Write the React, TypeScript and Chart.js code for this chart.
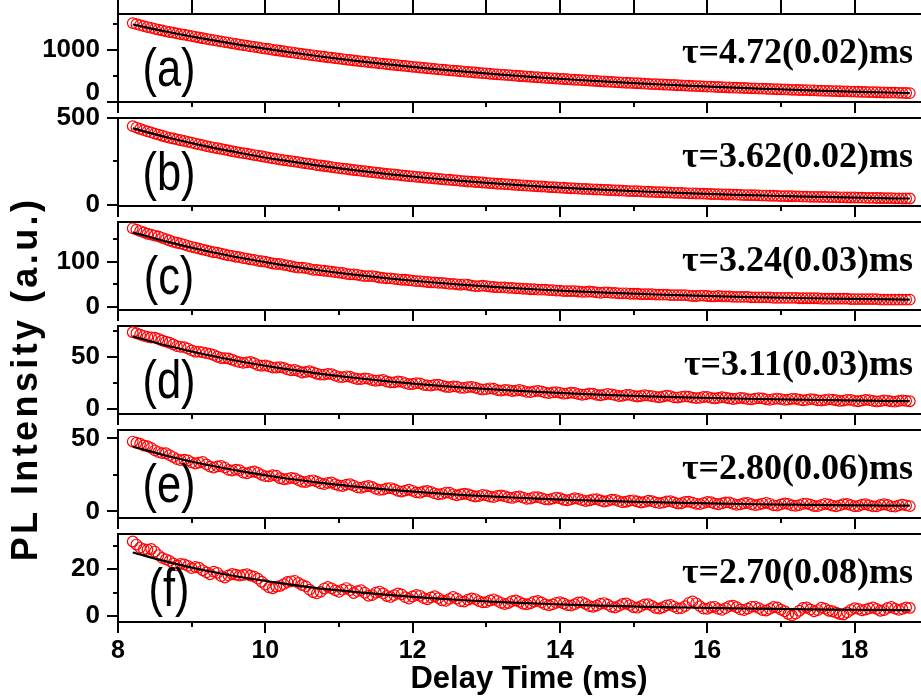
import { useEffect, useRef } from "react";
import { Chart, registerables } from "chart.js";

Chart.register(...registerables);

// Each decay trace is sampled every 0.05 ms starting at 8.20 ms.
const SAMPLE_START_MS = 8.2;
const SAMPLE_STEP_MS = 0.05;

// Times at which the single-exponential fits are tabulated.
const fitTimes = [
  8.2, 8.7, 9.2, 9.7, 10.2, 10.7, 11.2, 11.7, 12.2, 12.7, 13.2, 13.7, 14.2, 14.7, 15.2, 15.7, 16.2, 16.7,
  17.2, 17.7, 18.2, 18.7, 18.75,
];

const intensityA = [
  1262, 1252, 1242, 1233, 1224, 1216, 1207, 1199, 1191, 1183,
  1176, 1170, 1163, 1156, 1150, 1143, 1136, 1130, 1123, 1116,
  1109, 1103, 1098, 1091, 1086, 1079, 1074, 1067, 1061, 1055,
  1049, 1044, 1037, 1033, 1028, 1021, 1016, 1012, 1004, 1000,
  995, 990, 985, 980, 975, 970, 965, 960, 955, 951,
  946, 941, 937, 932, 928, 923, 919, 915, 910, 906,
  901, 897, 893, 890, 886, 881, 878, 874, 870, 866,
  862, 858, 855, 851, 848, 844, 840, 837, 833, 830,
  826, 823, 819, 816, 813, 810, 806, 803, 800, 797,
  794, 791, 788, 785, 782, 779, 776, 773, 770, 767,
  765, 762, 759, 757, 754, 751, 749, 746, 744, 741,
  739, 736, 734, 731, 729, 727, 724, 722, 720, 717,
  715, 713, 711, 709, 707, 705, 703, 700, 698, 696,
  694, 692, 690, 688, 686, 684, 683, 681, 679, 677,
  675, 673, 672, 670, 669, 667, 665, 664, 662, 661,
  659, 657, 656, 654, 653, 651, 649, 648, 646, 645,
  643, 642, 640, 639, 638, 636, 635, 634, 632, 631,
  630, 629, 627, 626, 625, 623, 622, 621, 619, 618,
  617, 616, 615, 614, 613, 612, 610, 609, 608, 607,
  606, 605, 604, 603, 602, 601, 600, 599, 598, 597,
  596, 595, 594, 593, 592, 591, 591, 590, 589, 588,
  587, 586,
];

const intensityB = [
  453, 445, 437, 430, 423, 417, 410, 404, 398, 392,
  386, 382, 377, 372, 368, 363, 358, 353, 348, 344,
  338, 334, 330, 326, 322, 318, 314, 309, 305, 301,
  298, 295, 291, 287, 284, 280, 276, 272, 268, 265,
  261, 258, 255, 252, 249, 246, 242, 239, 236, 233,
  229, 227, 224, 221, 218, 215, 212, 209, 207, 204,
  201, 199, 196, 194, 191, 189, 186, 184, 181, 179,
  177, 175, 173, 170, 168, 166, 164, 162, 160, 158,
  156, 154, 152, 150, 148, 146, 145, 143, 141, 139,
  137, 135, 134, 132, 131, 129, 127, 126, 124, 122,
  121, 120, 118, 117, 115, 114, 113, 111, 110, 108,
  107, 106, 105, 103, 102, 101, 100, 99, 97, 96,
  95, 94, 93, 92, 91, 90, 89, 88, 87, 86,
  85, 84, 83, 82, 81, 80, 80, 79, 78, 77,
  76, 75, 74, 74, 73, 72, 71, 70, 70, 69,
  68, 67, 67, 66, 65, 65, 64, 63, 62, 62,
  61, 60, 60, 59, 59, 58, 57, 57, 56, 56,
  55, 54, 54, 53, 53, 52, 51, 51, 50, 50,
  49, 49, 48, 48, 47, 47, 47, 46, 46, 45,
  45, 45, 44, 44, 43, 43, 43, 42, 42, 41,
  41, 41, 40, 40, 39, 39, 39, 38, 38, 37,
  37, 37,
];

const intensityC = [
  174, 171, 168, 165, 162, 160, 158, 156, 153, 150,
  147, 144, 142, 140, 138, 135, 133, 131, 129, 127,
  125, 123, 121, 120, 118, 116, 114, 113, 111, 110,
  108, 107, 105, 104, 102, 101, 100, 98, 96, 95,
  95, 93, 92, 90, 88, 87, 87, 86, 84, 82,
  82, 81, 80, 79, 78, 77, 76, 75, 73, 72,
  72, 71, 69, 68, 68, 68, 67, 65, 64, 63,
  63, 62, 61, 60, 60, 59, 58, 57, 57, 56,
  55, 54, 54, 53, 53, 52, 51, 51, 50, 49,
  50, 49, 47, 46, 46, 47, 46, 45, 44, 43,
  43, 43, 42, 42, 41, 41, 40, 40, 39, 39,
  38, 38, 38, 37, 37, 36, 36, 35, 35, 35,
  35, 34, 33, 33, 34, 33, 32, 31, 32, 32,
  31, 31, 30, 30, 30, 29, 29, 29, 28, 28,
  28, 28, 27, 27, 27, 27, 26, 26, 26, 26,
  26, 25, 24, 24, 25, 25, 24, 23, 23, 24,
  23, 23, 23, 22, 22, 22, 22, 22, 21, 21,
  21, 21, 21, 21, 20, 20, 20, 20, 20, 20,
  20, 19, 19, 19, 19, 19, 19, 18, 18, 18,
  18, 18, 18, 18, 18, 17, 17, 17, 17, 17,
  17, 17, 17, 16, 16, 16, 16, 16, 16, 16,
  16, 16,
];

const intensityD = [
  74, 73, 71.6, 70.4, 69.5, 68.9, 68.8, 67.5, 66, 64.9,
  63.8, 62.2, 60.5, 59.9, 59.6, 58.2, 56.4, 55.1, 55.3, 54.6,
  53.8, 53.1, 52, 50.3, 49.1, 48.9, 48.6, 47.4, 46, 45.1,
  44.4, 44.9, 45.3, 44, 42.2, 41.6, 41.9, 41, 39.8, 39.9,
  40.2, 39.6, 38.1, 37.2, 37.5, 36.4, 35.1, 35.6, 36.3, 35.2,
  33.9, 33.1, 33, 33.8, 33.5, 32, 30.8, 30.6, 31.4, 31,
  29.6, 28.8, 28.7, 29.4, 29, 27.7, 27.1, 27.5, 27.9, 26.4,
  25.5, 25.6, 26.4, 26.1, 24.8, 23.9, 24, 24.8, 24.6, 23.2,
  22.6, 22.4, 23.1, 23.4, 22.5, 21.3, 21, 21.7, 21.4, 20.3,
  20.2, 20.9, 21.2, 20.4, 19.3, 18.6, 19, 19.8, 19.4, 18.1,
  17.6, 18.3, 18, 17.2, 17.5, 18.2, 17.4, 16.3, 16.1, 16.9,
  17.4, 16.8, 15.6, 15.2, 15.8, 16.1, 15.5, 14.6, 14.9, 15.6,
  15.3, 14.2, 13.6, 14, 14.9, 14.6, 13.5, 13.1, 13.8, 14.5,
  13.9, 13.2, 12.4, 12.6, 13.5, 13.4, 12.5, 11.9, 12.4, 13.1,
  12.8, 12.3, 11.6, 11.2, 11.9, 12.7, 12.2, 11.1, 10.9, 11.6,
  12, 11.7, 10.8, 10.3, 10.6, 11.4, 11.5, 10.6, 10, 10.5,
  11.2, 10.9, 10, 9.5, 9.9, 10.6, 10.2, 9.3, 9.1, 9.8,
  10.3, 10, 9.2, 8.7, 9.3, 9.9, 9.4, 8.6, 8.9, 9.7,
  9.6, 8.8, 8.2, 8.6, 9.4, 9.1, 8.2, 7.9, 8.5, 9.2,
  8.9, 8.3, 7.6, 7.9, 8.7, 8.6, 7.7, 7.3, 7.9, 8.6,
  8.4, 7.7, 7.1, 7.5, 8.2, 8, 7.1, 6.9, 7.6, 8.1,
  7.6, 7.3,
];

const intensityE = [
  47.8, 47, 46.3, 45.1, 44.6, 43.5, 41.8, 40.6, 39.9, 39.8,
  38.5, 37.2, 35.8, 35.1, 35.4, 34.9, 33.6, 32.8, 33.4, 33.9,
  32.2, 30.6, 30, 30.8, 31.1, 30, 28.4, 27.9, 28.6, 28.2,
  26.5, 26, 26.9, 27.3, 26.4, 25, 24.1, 24, 24.8, 24.4,
  22.7, 22, 22.3, 22.9, 22.6, 21.4, 20.3, 20.1, 20.9, 21.3,
  20.4, 19.2, 18.7, 19.5, 19.8, 18.6, 17.6, 17.4, 18.3, 18.6,
  17.6, 16.5, 16.1, 16.9, 17.4, 16.8, 15.4, 14.7, 14.9, 15.8,
  16, 15.2, 14.1, 13.6, 14.2, 14.9, 14.1, 13, 12.8, 13.7,
  14, 13.4, 12.3, 11.7, 12, 12.9, 12.8, 11.7, 11, 11.6,
  12.1, 11.8, 10.9, 10.2, 10.5, 11.3, 11, 10.1, 9.8, 10.6,
  11, 10.4, 9.6, 9.2, 9.9, 10.3, 9.4, 8.6, 8.8, 9.7,
  9.8, 9.1, 8.3, 8.1, 8.8, 9.5, 9, 8, 7.6, 8.3,
  9, 8.6, 7.7, 7.1, 7.5, 8.3, 8.4, 7.5, 6.8, 7.2,
  8.1, 7.9, 7, 6.3, 6.6, 7.4, 7.6, 6.8, 6.1, 6.5,
  7.3, 7, 6.2, 5.7, 6, 6.9, 7, 6.2, 5.4, 5.6,
  6.5, 6.7, 6, 5.2, 5, 5.7, 6.5, 6.3, 5.3, 4.9,
  5.5, 6.2, 6.1, 5.2, 4.5, 4.8, 5.6, 5.8, 4.9, 4.3,
  4.6, 5.4, 5.9, 5.2, 4.2, 4, 4.8, 5.5, 5.1, 4.1,
  3.8, 4.3, 5.2, 5.4, 4.6, 3.7, 3.6, 4.5, 5.2, 4.8,
  3.9, 3.5, 4.1, 5, 5.1, 4.3, 3.5, 3.7, 4.6, 4.9,
  4.2, 3.4, 3.5, 4.4, 4.9, 4.4, 3.5, 3.3, 4.1, 4.6,
  4.1, 3.6,
];

const intensityF = [
  31.8, 30.5, 29.2, 28.5, 28.3, 28.6, 27.5, 26, 24.8, 24.2,
  23.5, 22.4, 21.6, 22.2, 22, 21.4, 20.4, 20.9, 20.6, 19.5,
  18.6, 17.8, 18.9, 18.4, 17, 16.4, 17.3, 17.9, 17.6, 17.2,
  17.5, 17.8, 17.2, 16.8, 15.9, 14.6, 13.4, 12.2, 11.8, 12.5,
  12.8, 13.6, 14.5, 14.8, 15, 14.1, 13.2, 12.6, 11.2, 10.1,
  9.6, 10.3, 11.7, 12.4, 11.8, 10.9, 10.3, 11.2, 11.9, 11,
  9.8, 10.6, 11, 9.9, 8.6, 8.9, 9.9, 10.4, 9.6, 8.5,
  8.1, 8.9, 9.6, 9.2, 8, 7.4, 8.3, 9, 8.6, 7.6,
  7.1, 7.9, 8.4, 7.6, 6.6, 6.4, 7.3, 8.1, 7.4, 6.3,
  6.1, 6.9, 7.5, 7.2, 6.3, 5.8, 5.9, 6.6, 7.1, 6.4,
  5.6, 5.1, 5.5, 6.3, 6.6, 6, 5.2, 4.9, 5.4, 6.1,
  6.4, 5.8, 4.9, 4.5, 4.9, 5.6, 5.9, 5.3, 4.6, 4.4,
  5, 5.8, 5.9, 5.1, 4.2, 3.9, 4.4, 5.2, 5.5, 4.8,
  3.9, 3.6, 4.3, 5.1, 5.3, 4.6, 3.7, 3.5, 4.2, 4.9,
  5, 4.3, 3.4, 3.1, 3.7, 4.5, 4.7, 4, 3.2, 3.3,
  4.2, 5.6, 6.2, 5.4, 4.2, 3.1, 3, 3.7, 3.9, 3,
  2.6, 3.3, 4.2, 4.4, 3.7, 2.8, 2.5, 3.1, 3.9, 4,
  3.3, 2.5, 2.3, 3, 3.8, 3.6, 2.7, 2, 0.8, 0.2,
  1, 2.2, 3.4, 3.6, 2.8, 2, 2.5, 3.5, 3.1, 2.2,
  2, 1.4, 0.8, 0.6, 1.5, 2.6, 3.3, 3, 2.4, 2.7,
  3.2, 3.6, 3, 2.2, 2.5, 3.4, 3.8, 3.1, 2.6, 3,
  3.6, 3.4,
];

// Single-exponential fit curves, tabulated at fitTimes.
const fitA = [1249, 1174, 1107, 1047, 993, 944, 900, 861, 825, 793, 764, 738, 715, 694, 675, 659, 643, 630, 617, 606, 596, 587, 586];
const fitB = [440, 385, 337, 296, 259, 228, 200, 176, 155, 137, 121, 107, 95, 85, 76, 68, 61, 55, 49, 45, 41, 37, 37];
const fitC = [165, 142.8, 123.8, 107.6, 93.6, 81.7, 71.4, 62.6, 55.1, 48.7, 43.1, 38.4, 34.3, 30.8, 27.9, 25.3, 23.1, 21.3, 19.6, 18.3, 17.1, 16.1, 16.0];
const fitD = [70, 60.4, 52.2, 45.2, 39.3, 34.3, 30, 26.3, 23.2, 20.5, 18.3, 16.3, 14.7, 13.3, 12.1, 11.1, 10.2, 9.5, 8.9, 8.4, 7.9, 7.5, 7.5];
const fitE = [44.4, 37.6, 31.9, 27.2, 23.2, 19.9, 17.1, 14.8, 12.8, 11.2, 9.9, 8.7, 7.8, 7, 6.3, 5.8, 5.3, 4.9, 4.6, 4.3, 4.1, 3.9, 3.9];
const fitF = [27.1, 22.9, 19.3, 16.4, 14, 11.9, 10.3, 8.9, 7.7, 6.7, 5.9, 5.3, 4.7, 4.3, 3.9, 3.6, 3.3, 3.1, 2.9, 2.7, 2.6, 2.5, 2.5];

const panelNames = ["(a)", "(b)", "(c)", "(d)", "(e)", "(f)"];
const tauValues = [4.72, 3.62, 3.24, 3.11, 2.8, 2.7];
const tauErrors = [0.02, 0.02, 0.03, 0.03, 0.06, 0.08];

const yMin = [500, -6, -7, -5, -4.5, -2.6];
const yMax = [1350, 500, 188, 80, 55.7, 35];
const yMajorTicks = [[500, 1000], [0, 500], [0, 100], [0, 50], [0, 50], [0, 20]];
const yMajorText = [["0", "1000"], ["0", "500"], ["0", "100"], ["0", "50"], ["0", "50"], ["0", "20"]];
const yMinorTicks = [[750, 1250], [250], [50, 150], [25, 75], [25], [10, 30]];

const xMin = 8;
const xMax = 19.16;
const xLabelTicks = [8, 10, 12, 14, 16, 18];
const xAllTicks = [8, 9, 10, 11, 12, 13, 14, 15, 16, 17, 18, 19];

const traces = [intensityA, intensityB, intensityC, intensityD, intensityE, intensityF];
const fits = [fitA, fitB, fitC, fitD, fitE, fitF];
const PANEL_IDS = ["pa", "pb", "pc", "pd", "pe", "pf"];

const SANS = '"Liberation Sans", Arial, Helvetica, sans-serif';
const SERIF = '"Liberation Serif", "Times New Roman", serif';

const AXIS_WIDTH = 118;
const MAJOR_TICK = 11;
const MINOR_TICK = 5;

// Frames, tick marks and in-panel annotations for the stacked panels.
const panelDecor = {
  id: "panelDecor",
  beforeDatasetsDraw(chart: any) {
    const { ctx, chartArea } = chart;
    const xs = chart.scales.x;
    const left = Math.round(chartArea.left);
    const right = Math.round(chartArea.right);
    ctx.save();
    ctx.strokeStyle = "#000";
    ctx.lineWidth = 2;
    PANEL_IDS.forEach((id, i) => {
      const s = chart.scales[id];
      const top = Math.round(s.top);
      const bottom = Math.round(s.bottom);
      ctx.beginPath();
      ctx.rect(left, top, right - left, bottom - top);
      ctx.stroke();

      ctx.beginPath();
      yMajorTicks[i].forEach((v) => {
        const y = Math.round(s.getPixelForValue(v));
        ctx.moveTo(left - MAJOR_TICK, y);
        ctx.lineTo(left, y);
      });
      yMinorTicks[i].forEach((v) => {
        const y = Math.round(s.getPixelForValue(v));
        ctx.moveTo(left - MINOR_TICK, y);
        ctx.lineTo(left, y);
      });
      xAllTicks.forEach((v) => {
        const x = Math.round(xs.getPixelForValue(v));
        const len = v % 2 === 0 ? MAJOR_TICK : MINOR_TICK;
        ctx.moveTo(x, bottom);
        ctx.lineTo(x, bottom + len);
        if (i === 0) {
          ctx.moveTo(x, top);
          ctx.lineTo(x, 0);
        }
      });
      ctx.stroke();
    });
    ctx.restore();
  },
  afterDatasetsDraw(chart: any) {
    const { ctx, chartArea } = chart;
    ctx.save();
    ctx.fillStyle = "#000";
    PANEL_IDS.forEach((id, i) => {
      const s = chart.scales[id];
      ctx.save();
      ctx.font = `53px ${SANS}`;
      ctx.textAlign = "center";
      ctx.textBaseline = "alphabetic";
      ctx.translate(chartArea.left + 51, s.top + 72);
      ctx.scale(0.82, 1);
      ctx.fillText(panelNames[i], 0, 0);
      ctx.restore();

      ctx.font = `bold 36px ${SERIF}`;
      ctx.textAlign = "right";
      ctx.textBaseline = "alphabetic";
      ctx.fillText(
        `τ=${tauValues[i].toFixed(2)}(${tauErrors[i].toFixed(2)})ms`,
        chartArea.right - 27,
        s.top + 49
      );
    });
    ctx.save();
    ctx.translate(27, 379);
    ctx.rotate(-Math.PI / 2);
    ctx.font = `bold 36px ${SANS}`;
    (ctx as any).letterSpacing = "3.4px";
    ctx.textAlign = "center";
    ctx.textBaseline = "middle";
    ctx.fillText("PL Intensity (a.u.)", 0, 0);
    ctx.restore();
    ctx.restore();
  },
};

const hiddenGrid = {
  display: true,
  drawOnChartArea: false,
  drawTicks: true,
  tickLength: MAJOR_TICK,
  color: "rgba(0,0,0,0)",
  tickColor: "rgba(0,0,0,0)",
};

function noPadding(s: any) {
  s.paddingTop = 0;
  s.paddingBottom = 0;
  s.paddingLeft = 0;
  s.paddingRight = 0;
}

export default function App() {
  const ref = useRef<HTMLCanvasElement>(null);

  useEffect(() => {
    const canvas = ref.current;
    if (!canvas) return;

    const datasets: any[] = [];
    traces.forEach((trace, i) => {
      datasets.push({
        type: "line",
        label: `fit ${panelNames[i]}`,
        data: fits[i].map((v, k) => ({ x: fitTimes[k], y: v })),
        yAxisID: PANEL_IDS[i],
        borderColor: "#000",
        borderWidth: 2.2,
        pointRadius: 0,
        fill: false,
        cubicInterpolationMode: "monotone",
        order: 1,
      });
      datasets.push({
        type: "scatter",
        label: `data ${panelNames[i]}`,
        data: trace.map((v, k) => ({ x: Number((SAMPLE_START_MS + k * SAMPLE_STEP_MS).toFixed(2)), y: v })),
        yAxisID: PANEL_IDS[i],
        pointStyle: "circle",
        pointRadius: 5.3,
        pointBorderWidth: 1.2,
        borderColor: "#ff0000",
        backgroundColor: "rgba(0,0,0,0)",
        showLine: false,
        order: 2,
      });
    });

    const scales: any = {
      x: {
        type: "linear",
        position: "bottom",
        min: xMin,
        max: xMax,
        afterBuildTicks: (s: any) => {
          s.ticks = xLabelTicks.map((v) => ({ value: v }));
        },
        ticks: {
          autoSkip: false,
          maxRotation: 0,
          padding: 3,
          color: "#000",
          font: { family: SANS, size: 25, weight: "bold" },
          callback: (v: any) => String(v),
        },
        grid: hiddenGrid,
        border: { display: false },
        title: {
          display: true,
          text: "Delay Time (ms)",
          color: "#000",
          font: { family: SANS, size: 31, weight: "bold" },
          padding: { top: 0, bottom: 2 },
        },
        afterFit: (s: any) => {
          s.height = 78;
          noPadding(s);
        },
      },
    };

    PANEL_IDS.forEach((id, i) => {
      scales[id] = {
        type: "linear",
        position: "left",
        stack: "panels",
        stackWeight: 88,
        weight: 100 - 2 * i,
        min: yMin[i],
        max: yMax[i],
        afterBuildTicks: (s: any) => {
          s.ticks = yMajorTicks[i].map((v) => ({ value: v }));
        },
        ticks: {
          autoSkip: false,
          padding: 7,
          color: "#000",
          font: { family: SANS, size: 26, weight: "bold", lineHeight: i === 0 ? 0.7 : 1.2 },
          callback: (_v: any, idx: number) =>
            i === 0 && idx === 0 ? [yMajorText[i][idx], ""] : yMajorText[i][idx],
        },
        grid: hiddenGrid,
        border: { display: false },
        afterFit: (s: any) => {
          s.width = AXIS_WIDTH;
          noPadding(s);
        },
      };
      if (i < PANEL_IDS.length - 1) {
        scales[`gap${i}`] = {
          type: "linear",
          position: "left",
          stack: "panels",
          stackWeight: 16,
          weight: 99 - 2 * i,
          display: true,
          ticks: { display: false },
          grid: { display: false },
          border: { display: false },
          afterFit: (s: any) => {
            s.width = AXIS_WIDTH;
            noPadding(s);
          },
        };
      }
    });

    const chart = new Chart(canvas, {
      type: "scatter",
      data: { datasets },
      options: {
        responsive: false,
        animation: false,
        devicePixelRatio: 1,
        layout: { padding: { top: 14, left: 0, right: 20, bottom: 0 } },
        plugins: { legend: { display: false }, tooltip: { enabled: false } },
        events: [],
        scales,
      },
      plugins: [panelDecor],
    } as any);

    return () => chart.destroy();
  }, []);

  return (
    <div
      style={{
        position: "fixed",
        left: 0,
        top: 0,
        width: 921,
        height: 700,
        overflow: "hidden",
        background: "#fff",
      }}
    >
      <canvas ref={ref} width={960} height={700} style={{ display: "block", width: 960, height: 700 }} />
    </div>
  );
}
